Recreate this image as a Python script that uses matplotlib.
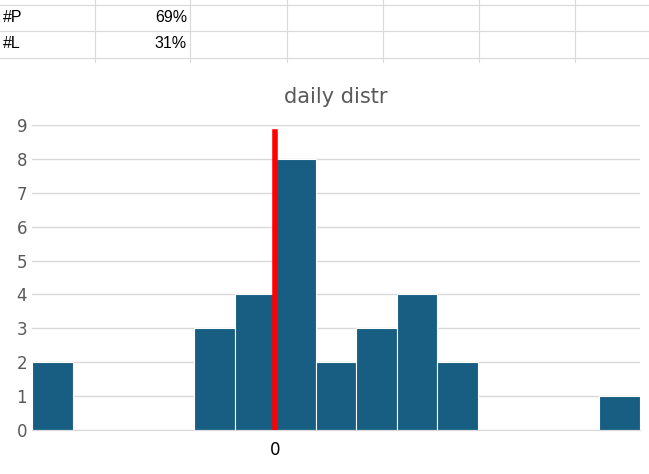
import matplotlib
matplotlib.use("Agg")
import matplotlib.pyplot as plt
from matplotlib.lines import Line2D

counts = [2, 0, 0, 0, 3, 4, 8, 2, 3, 4, 2, 0, 0, 0, 1]
zero_edge = 6
marker_height = 8.8
yticks = list(range(0, 10))
table_labels = ["#P", "#L"]
table_values = ["69%", "31%"]

W, H = 649, 474
fig = plt.figure(figsize=(W/100, H/100), dpi=100)
fig.patch.set_facecolor("white")

# spreadsheet grid at top
gc = "#d9d9d9"
for y in [5, 31, 58]:
    fig.add_artist(Line2D([0, 1], [1-y/H, 1-y/H], color=gc, lw=0.8))
for x in [95, 190, 287, 383, 479, 575]:
    fig.add_artist(Line2D([x/W, x/W], [1-62/H, 1], color=gc, lw=0.8))
for i, (lab, val) in enumerate(zip(table_labels, table_values)):
    yc = 1 - (17 + 26*i)/H
    fig.text(3/W, yc, lab, fontsize=11.5, va="center", ha="left", family="Liberation Sans")
    fig.text(187/W, yc, val, fontsize=11.5, va="center", ha="right", family="Liberation Sans")

ax = fig.add_axes([32/W, 1-430/H, 608/W, 305/H])
x = list(range(len(counts)))
ax.bar(x, counts, width=1.0, align="edge", color="#175e82", edgecolor="white", linewidth=0.8, zorder=2)
ax.plot([zero_edge, zero_edge], [0, marker_height], color="#ff0000", lw=4, zorder=3)
ax.set_xlim(0, len(counts))
ax.set_ylim(0, 9)
ax.set_yticks(yticks)
ax.set_xticks([zero_edge])
ax.set_xticklabels(["0"])
ax.grid(axis="y", color="#d9d9d9", lw=1, zorder=0)
for s in ax.spines.values():
    s.set_visible(False)
ax.spines["bottom"].set_visible(True)
ax.spines["bottom"].set_color("#d9d9d9")
ax.tick_params(length=0, labelsize=12, colors="#595959")
ax.tick_params(axis="x", colors="black", pad=8)
ax.set_title("daily distr", fontsize=15, color="#595959", pad=16)
fig.savefig("out.png", dpi=100)
